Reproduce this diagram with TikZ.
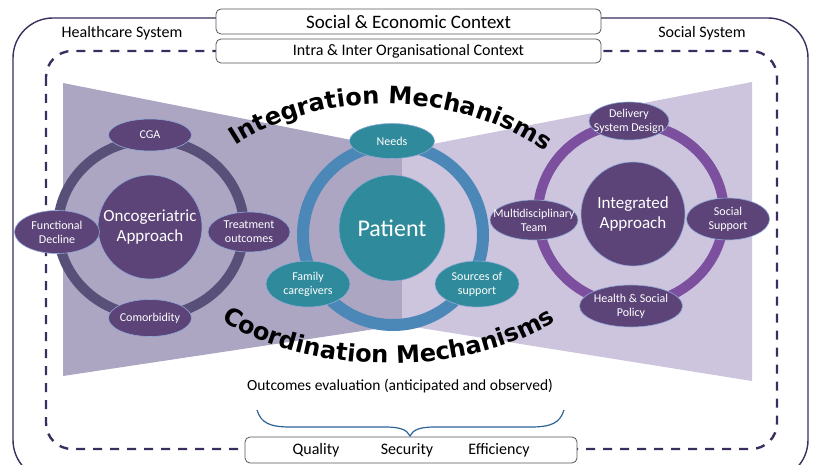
\documentclass[tikz,border=0pt]{standalone}
\usepackage{fontspec}
\setmainfont{Carlito}
\newfontfamily\mechfont{DejaVu Sans}
\usetikzlibrary{positioning,shapes.geometric,decorations.text}

\definecolor{framecol}{HTML}{3B2D5E}
\definecolor{leftbg}{HTML}{ACA6C3}
\definecolor{rightbg}{HTML}{CDC4DE}
\definecolor{ringleft}{HTML}{585079}
\definecolor{ringright}{HTML}{7C4F9F}
\definecolor{ringmid}{HTML}{4B87B7}
\definecolor{hubpurple}{HTML}{5C4479}
\definecolor{hubteal}{HTML}{2F8B9B}
\definecolor{edgeblue}{HTML}{8FA9D8}
\definecolor{bracecol}{HTML}{2D6496}
\definecolor{boxgray}{HTML}{555555}

\tikzset{
	sat/.style={ellipse, fill=hubpurple, draw=edgeblue, line width=0.6pt, inner sep=0pt},
	satlabel/.style={text=white, font=\fontsize{12}{14}\selectfont, align=center},
	hub/.style={circle, fill=hubpurple, draw=edgeblue, line width=0.6pt, minimum size=104pt, inner sep=0pt, text=white, align=center, font=\fontsize{17}{20}\selectfont},
	ctx/.style={draw=boxgray, fill=white, rounded corners=5pt, line width=0.8pt, minimum width=385pt, minimum height=25pt, inner sep=0pt},
	ring/.style={line width=10pt},
	mech/.style={decorate, decoration={text along path, text align=center, text={|\mechfont\bfseries\fontsize{24}{24}\selectfont|#1}}}
}

\begin{document}
\begin{tikzpicture}[x=1pt,y=-1pt,on grid]
	\useasboundingbox (0,0) rectangle (813,465);
	\clip (0,0) rectangle (813,465);
	\draw[framecol, line width=1.4pt, rounded corners=40pt] (13,18) rectangle (808,480);
	\draw[framecol, line width=2.4pt, dash pattern=on 9pt off 8pt, rounded corners=26pt] (46,51) rectangle (777,449);
	\fill[leftbg] (63,83) -- (402,150) -- (402,325) -- (63,376) -- cycle;
	\fill[rightbg] (752,82) -- (402,150) -- (402,325) -- (752,381) -- cycle;
	
	\coordinate (lring) at (151,228);
	\coordinate (mring) at (393,235);
	\coordinate (rring) at (631,214);
	\draw[ring, ringleft] (lring) ellipse [x radius=93pt, y radius=88pt];
	\draw[ring, ringmid, line width=12pt] (mring) circle [radius=90pt];
	\draw[ring, ringright] (rring) ellipse [x radius=93pt, y radius=90pt];
	
	\node[hub] (onco) at (150,227) {Oncogeriatric\\Approach};
	\node[sat, minimum width=83pt, minimum height=32pt, label={[satlabel]center:CGA}] (cga) [above=92pt of onco] {};
	\node[sat, minimum width=85pt, minimum height=43pt, label={[satlabel]center:{Functional\\Decline}}] (decline) [left=93pt of onco, yshift=-5pt] {};
	\node[sat, minimum width=82pt, minimum height=40pt, label={[satlabel]center:{Treatment\\outcomes}}] (treat) [right=99pt of onco, yshift=-5pt] {};
	\node[sat, minimum width=83pt, minimum height=37pt, label={[satlabel]center:Comorbidity}] (comorb) [below=91pt of onco] {};
	
	\node[hub, fill=hubteal, minimum size=106pt, font=\fontsize{24}{28}\selectfont] (patient) at (392,228) {Patient};
	\node[sat, fill=hubteal, minimum width=85pt, minimum height=35pt, label={[satlabel]center:Needs}] (needs) [above=87pt of patient] {};
	\node[sat, fill=hubteal, minimum width=84pt, minimum height=46pt, label={[satlabel]center:{Family\\caregivers}}] (family) [below left=56pt and 84pt of patient] {};
	\node[sat, fill=hubteal, minimum width=84pt, minimum height=46pt, label={[satlabel]center:{Sources of\\support}}] (sources) [below right=56pt and 85pt of patient] {};
	
	\node[hub] (integ) at (633,214) {Integrated\\Approach};
	\node[sat, minimum width=80pt, minimum height=38pt, label={[satlabel]center:{Delivery\\System Design}}] (delivery) [above=93pt of integ, xshift=-4pt] {};
	\node[sat, minimum width=88pt, minimum height=40pt, label={[satlabel]center:{Multidisciplinary\\Team}}] (multi) [left=99pt of integ, yshift=-6pt] {};
	\node[sat, minimum width=83pt, minimum height=42pt, label={[satlabel]center:{Social\\Support}}] (support) [right=95pt of integ, yshift=-5pt] {};
	\node[sat, minimum width=103pt, minimum height=42pt, label={[satlabel]center:{Health \& Social\\Policy}}] (policy) [below=92pt of integ, xshift=-2pt] {};
	
	\coordinate (intL) at (226,152);
	\coordinate (intR) at (554,158);
	\path[mech={Integration Mechanisms}] (intL) .. controls (316,86) and (464,88) .. (intR);
	\coordinate (coordL) at (210,313);
	\coordinate (coordR) at (567,313);
	\path[mech={Coordination Mechanisms}] (coordL) .. controls (300,380) and (477,380) .. (coordR);
	
	\node[ctx, font=\fontsize{19}{22}\selectfont] (socecon) at (408.5,21.5) {Social \& Economic Context};
	\node[ctx, minimum height=24pt, font=\fontsize{16}{19}\selectfont] (intra) [below=29.5pt of socecon] {Intra \& Inter Organisational Context};
	\node[font=\fontsize{16}{19}\selectfont] (health) at (122,33) {Healthcare System};
	\node[font=\fontsize{16}{19}\selectfont] (social) at (702,33) {Social System};
	
	\node[font=\fontsize{15.5}{18}\selectfont] (outcomes) at (400,386) {Outcomes evaluation (anticipated and observed)};
	\coordinate (braceL) at (257,410);
	\coordinate (braceTip) at (410,436);
	\coordinate (braceR) at (564,410);
	\draw[bracecol, line width=1.2pt] (braceL) .. controls (261,423) and (270,427) .. (290,427) -- (385,427) .. controls (401,427) and (407,430) .. (braceTip) .. controls (413,430) and (419,427) .. (435,427) -- (531,427) .. controls (551,427) and (560,423) .. (braceR);
	\node[ctx, minimum width=332pt, minimum height=26pt] (results) at (411,450) {};
	\node[font=\fontsize{16}{19}\selectfont] (security) at (407,450) {Security};
	\node[font=\fontsize{16}{19}\selectfont] (quality) [left=91pt of security] {Quality};
	\node[font=\fontsize{16}{19}\selectfont] (efficiency) [right=92pt of security] {Efficiency};
\end{tikzpicture}
\end{document}
